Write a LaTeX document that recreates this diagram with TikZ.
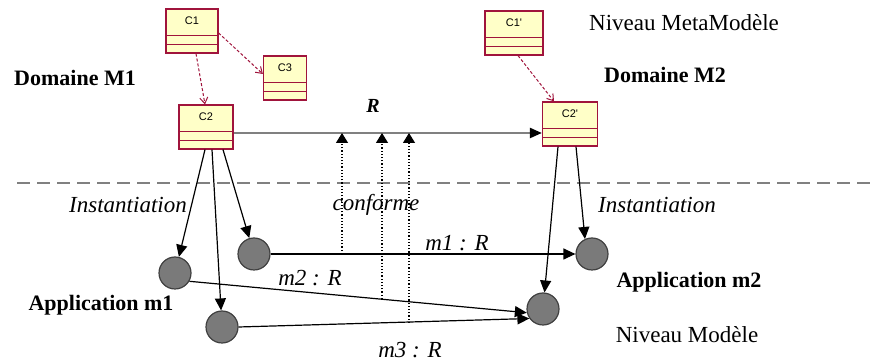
\documentclass[tikz,border=0pt]{standalone}
\usepackage{fontspec}
\setmainfont{Liberation Serif}
\newfontfamily\boxfont{Liberation Sans}
\usetikzlibrary{arrows.meta}
\definecolor{classred}{RGB}{160,20,60}
\definecolor{classfill}{RGB}{255,255,200}
\definecolor{objfill}{RGB}{122,122,122}
\definecolor{objline}{RGB}{64,64,64}
\definecolor{relgray}{RGB}{128,128,128}

\newcommand{\umlclass}[4]{%
\node[classbox,minimum width=#4] (#1) at (#2) {};
\node[classname] (#1n) at ([yshift=-6pt]#1.north) {#3};
\draw[classsep] ([yshift=9pt]#1.south west) -- ([yshift=9pt]#1.south east);
\draw[classsep] ([yshift=4.5pt]#1.south west) -- ([yshift=4.5pt]#1.south east);
}

\begin{document}
\begin{tikzpicture}[x=0.5pt,y=-0.5pt,
  classbox/.style={draw=classred,fill=classfill,line width=0.6pt,minimum height=22pt,inner sep=0pt},
  classsep/.style={classred,line width=0.6pt},
  classname/.style={font=\boxfont\fontsize{5.5}{6}\selectfont,inner sep=0pt},
  obj/.style={circle,draw=objline,fill=objfill,line width=0.6pt,minimum size=16pt,inner sep=0pt},
  dep/.style={classred,line width=0.5pt,dash pattern=on 1.5pt off 1pt,-{Straight Barb[length=3pt,width=4pt]}},
  inst/.style={line width=0.6pt,-{Triangle[length=6pt,width=5.5pt]}},
  conf/.style={line width=0.6pt,densely dotted,-{Triangle[length=5pt,width=6pt]}},
  txt/.style={font=\fontsize{11.5}{13}\selectfont,inner sep=0pt},
  bold/.style={font=\fontsize{11}{13}\selectfont\bfseries,inner sep=0pt},
  emph/.style={font=\fontsize{11.5}{13}\selectfont\itshape,inner sep=0pt}]
\useasboundingbox (0,0) rectangle (877,362);

\umlclass{C1}{192,31}{C1}{26pt}
\umlclass{C3}{285,78}{C3}{21.5pt}
\umlclass{C2}{206,127}{C2}{27pt}
\umlclass{C1p}{514,33}{C1'}{29pt}
\umlclass{C2p}{570,124}{C2'}{27.5pt}

\draw[dep] ([xshift=2pt]C1.south) -- ([xshift=-0.5pt]C2.north);
\draw[dep] ([yshift=-1pt]C1.east) -- ([yshift=2pt]C3.west);
\draw[dep] ([xshift=2pt]C1p.south) -- ([xshift=-8pt]C2p.north);

\draw[gray,line width=1.3pt,dash pattern=on 6.5pt off 3.5pt] (17,183) -- (877,183);

\node[obj] (ma) at (254,254) {};
\node[obj] (ml) at (175,273) {};
\node[obj] (mb) at (222,327) {};
\node[obj] (mt) at (592,254) {};
\node[obj] (mr) at (543,309) {};

\draw[relgray,line width=1.1pt,-{Triangle[black,length=6pt,width=5pt]}] ([yshift=-3pt]C2.east) -- ([yshift=-4.5pt]C2p.west);

\draw[inst] ([xshift=-0.5pt]C2.south) -- (ml);
\draw[inst] ([xshift=3pt]C2.south) -- (mb);
\draw[inst] ([xshift=8.5pt]C2.south) -- (ma);
\draw[inst] ([xshift=-6pt]C2p.south) -- (mr);
\draw[inst] ([xshift=3pt]C2p.south) -- (mt.115);

\draw[inst] (ma) -- (mt);
\draw[inst] (ml.-30) -- (mr.193);
\draw[inst] (mb.east) -- (mr.215);

\coordinate (c1b) at (342,254);
\coordinate (c1t) at (342,133);
\coordinate (c2b) at (382,299);
\coordinate (c2t) at (382,133);
\coordinate (c3b) at (409,323);
\coordinate (c3t) at (409,133);
\draw[conf] (c1b) -- (c1t);
\draw[conf] (c2b) -- (c2t);
\draw[conf] (c3b) -- (c3t);

\node[font=\fontsize{10}{12}\selectfont\bfseries\itshape,inner sep=0pt] (rel) at (373,106) {R};
\node[txt] (meta) at (684,23) {Niveau MetaModèle};
\node[txt] (modele) at (687,335) {Niveau Modèle};
\node[bold] (dm1) at (75,78) {Domaine M1};
\node[bold] (dm2) at (665,75) {Domaine M2};
\node[bold] (am1) at (101,305) {Application m1};
\node[bold] (am2) at (689,282) {Application m2};
\node[emph] (inst1) at (128,205) {Instantiation};
\node[emph] (inst2) at (657,205) {Instantiation};
\node[emph] (conf) at (376,205) {conforme};
\node[emph] (lm1) at (457,243) {m1 : R};
\node[emph] (lm2) at (310,278) {m2 : R};
\node[emph] (lm3) at (410,350) {m3 : R};
\end{tikzpicture}
\end{document}
